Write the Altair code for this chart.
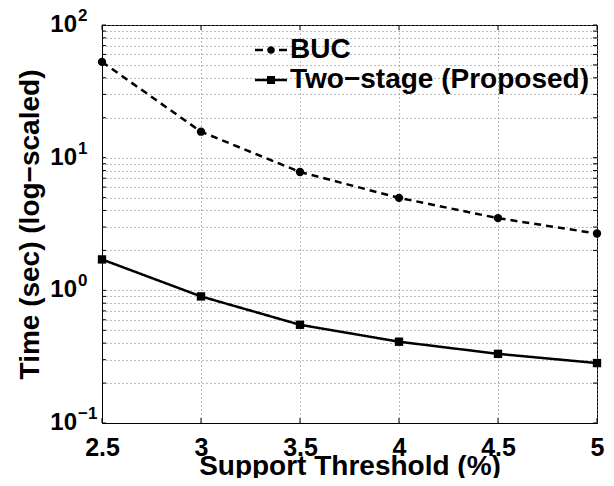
import altair as alt
import pandas as pd

# ---- data ----
support = [2.5, 3.0, 3.5, 4.0, 4.5, 5.0]
buc = [52.7, 15.7, 7.8, 4.98, 3.5, 2.68]
two_stage = [1.71, 0.90, 0.55, 0.41, 0.332, 0.283]
series_names = ["BUC", "Two\u2212stage (Proposed)"]

decades = [0.1, 1, 10, 100]
decade_exp = ["\u22121", "0", "1", "2"]
y_grid_values = [m * d for d in [0.1, 1, 10] for m in range(1, 10)] + [100]

FONT = "Liberation Sans"
W, H = 495, 398

rows = []
for s, vals in zip(series_names, [buc, two_stage]):
    for x, v in zip(support, vals):
        rows.append({"support": x, "time": v, "series": s})
df = pd.DataFrame(rows)
df_dec = pd.DataFrame({"v": decades, "base": ["10"] * 4, "exp": decade_exp})
df_yt = pd.DataFrame({"v": y_grid_values})
df_xt = pd.DataFrame({"s": support})

yscale = alt.Scale(type="log", domain=[0.1, 100], nice=False)
xscale = alt.Scale(domain=[2.5, 5], nice=False)

x_axis = alt.Axis(values=support, format="~g", title="Support Threshold (%)",
                  grid=True, gridDash=[1, 3], gridColor="#777777", gridWidth=1,
                  ticks=False, labelFont=FONT, labelFontSize=25, labelFontWeight="bold",
                  labelColor="black", labelPadding=12, labelFlush=False, labelOverlap=False,
                  titleFont=FONT, titleFontSize=28,
                  titleFontWeight="bold", titleColor="black", titlePadding=-8,
                  domainColor="black", domainWidth=1)
y_axis = alt.Axis(values=y_grid_values, labels=False, ticks=False,
                  title="Time (sec) (log\u2212scaled)", grid=True, gridDash=[1, 3],
                  gridColor="#777777", gridWidth=1, titleFont=FONT, titleFontSize=28,
                  titleFontWeight="bold", titleColor="black", titlePadding=58,
                  domainColor="black", domainWidth=1)

base = alt.Chart(df)

lines = base.mark_line(strokeWidth=2.5, color="black").encode(
    x=alt.X("support:Q", scale=xscale, axis=x_axis),
    y=alt.Y("time:Q", scale=yscale, axis=y_axis),
    strokeDash=alt.StrokeDash("series:N",
                              scale=alt.Scale(domain=series_names, range=[[7, 5], [1, 0]]),
                              legend=None),
)

points = base.mark_point(filled=True, opacity=1, color="black", size=70).encode(
    x=alt.X("support:Q", scale=xscale, axis=x_axis),
    y=alt.Y("time:Q", scale=yscale, axis=y_axis),
    shape=alt.Shape("series:N", scale=alt.Scale(domain=series_names, range=["circle", "square"]),
                    legend=None),
)

# legend glyphs as filled outlines: short dashes + dot, solid bar + square
path_buc = ("M-1,-0.08H-0.5V0.08H-1Z M0.5,-0.08H1V0.08H0.5Z "
            "M-0.24,0A0.24,0.24,0,1,1,0.24,0A0.24,0.24,0,1,1,-0.24,0Z")
path_two = ("M-1,-0.08H-0.25V0.08H-1Z M0.25,-0.08H1V0.08H0.25Z "
            "M-0.25,-0.25H0.25V0.25H-0.25Z")

legend_layer = base.transform_filter("false").mark_point(
    filled=True, opacity=1, color="black", strokeWidth=0
).encode(
    shape=alt.Shape(
        "series:N",
        scale=alt.Scale(domain=series_names, range=[path_buc, path_two]),
        legend=alt.Legend(title=None, orient="none", legendX=153, legendY=9, padding=0,
                          symbolSize=1024, symbolFillColor="black", symbolStrokeWidth=0,
                          symbolOpacity=1,
                          labelFont=FONT, labelFontSize=28, labelFontWeight="bold",
                          labelColor="black", labelOffset=3, rowPadding=-3,
                          labelLimit=400),
    ),
)

dec_base = alt.Chart(df_dec)
lab10 = dec_base.mark_text(font=FONT, fontSize=24, fontWeight="bold", align="right",
                           baseline="middle", color="black").encode(
    y=alt.Y("v:Q", scale=yscale, axis=y_axis), x=alt.value(-25), text="base:N")
labexp = dec_base.mark_text(font=FONT, fontSize=17, fontWeight="bold", align="left",
                            baseline="middle", color="black", dy=-9).encode(
    y=alt.Y("v:Q", scale=yscale, axis=y_axis), x=alt.value(-24), text="exp:N")

# inward tick marks on the box (left/right for log ticks, top/bottom for x ticks)
yt = alt.Chart(df_yt)
ytick_l = yt.mark_rule(color="black", strokeWidth=1).encode(
    y=alt.Y("v:Q", scale=yscale, axis=y_axis), x=alt.value(0), x2=alt.value(4))
ytick_r = yt.mark_rule(color="black", strokeWidth=1).encode(
    y=alt.Y("v:Q", scale=yscale, axis=y_axis), x=alt.value(W - 4), x2=alt.value(W))
xt = alt.Chart(df_xt)
xtick_b = xt.mark_rule(color="black", strokeWidth=1).encode(
    x=alt.X("s:Q", scale=xscale, axis=x_axis), y=alt.value(H - 5), y2=alt.value(H))
xtick_t = xt.mark_rule(color="black", strokeWidth=1).encode(
    x=alt.X("s:Q", scale=xscale, axis=x_axis), y=alt.value(0), y2=alt.value(5))

chart = alt.layer(ytick_l, ytick_r, xtick_b, xtick_t, lines, points, lab10, labexp,
                  legend_layer).resolve_scale(
    shape="independent"
).properties(
    width=W, height=H,
    autosize=alt.AutoSizeParams(type="none"),
    padding={"left": 94, "top": 17, "right": 9, "bottom": 55},
).configure(background="white").configure_view(stroke="black", strokeWidth=1)

chart.save("out.html", embed_options={"renderer": "svg", "actions": False})
